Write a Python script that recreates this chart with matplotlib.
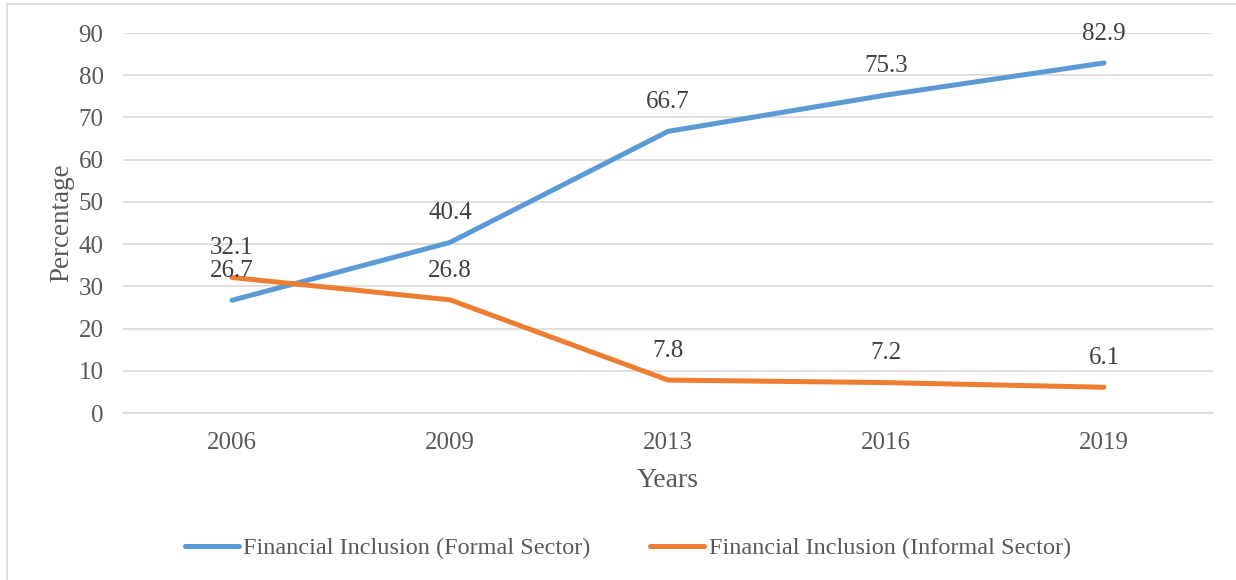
import matplotlib.pyplot as plt
from matplotlib.patches import Rectangle

years = ["2006", "2009", "2013", "2016", "2019"]
formal = [26.7, 40.4, 66.7, 75.3, 82.9]
informal = [32.1, 26.8, 7.8, 7.2, 6.1]
y_ticks = [0, 10, 20, 30, 40, 50, 60, 70, 80, 90]

BLUE = "#5B9BD5"
ORANGE = "#ED7D31"
TEXT = "#595959"
LABEL = "#404040"
GRID = "#D9D9D9"

plt.rcParams["font.family"] = ["Liberation Serif", "DejaVu Serif"]

fig = plt.figure(figsize=(12.36, 5.80), dpi=100)
fig.patches.append(Rectangle((6.5 / 1236, -0.1), 1.2, 1 - 4.5 / 580 + 0.1,
                             transform=fig.transFigure, fill=False,
                             edgecolor=GRID, linewidth=1.2, zorder=0))

ax = fig.add_axes([123 / 1236, 1 - 413 / 580, (1213 - 123) / 1236, (413 - 33) / 580])
x = list(range(len(years)))

ax.plot(x, formal, color=BLUE, linewidth=3.6, solid_capstyle="round",
        label="Financial Inclusion (Formal Sector)", zorder=3)
ax.plot(x, informal, color=ORANGE, linewidth=3.6, solid_capstyle="round",
        label="Financial Inclusion (Informal Sector)", zorder=3)

# data labels just above each point
for series in (formal, informal):
    for xi, v in zip(x, series):
        ax.annotate(f"{v}", (xi, v), xytext=(0, 21), textcoords="offset points",
                    ha="center", va="center", fontsize=18, color=LABEL)

ax.set_xlim(-0.5, len(years) - 0.5)
ax.set_ylim(0, 90)
ax.set_yticks(y_ticks)
ax.set_xticks(x)
ax.set_xticklabels(years)
ax.tick_params(axis="both", length=0, labelsize=18, labelcolor=TEXT)
ax.tick_params(axis="y", pad=14)
ax.tick_params(axis="x", pad=14)
ax.grid(axis="y", color=GRID, linewidth=1.2)
ax.set_axisbelow(True)
for s in ["top", "right", "left"]:
    ax.spines[s].set_visible(False)
ax.spines["bottom"].set_color(GRID)
ax.spines["bottom"].set_linewidth(1.2)

ax.set_xlabel("Years", fontsize=20, color=TEXT, labelpad=10)
ax.set_ylabel("Percentage", fontsize=19.5, color=TEXT, labelpad=3)

fig.legend(loc="center", bbox_to_anchor=(628 / 1236, 1 - 548 / 580), ncol=2,
           frameon=False, fontsize=17.5, labelcolor=TEXT, handlelength=2.2,
           handletextpad=0.2, columnspacing=2.45)

fig.savefig("out.png", dpi=100)
